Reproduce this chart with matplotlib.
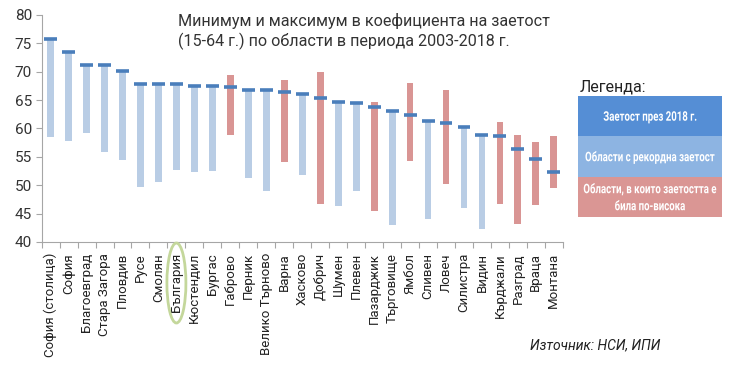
import matplotlib
matplotlib.use("Agg")
import matplotlib.pyplot as plt
from matplotlib.patches import Ellipse, Rectangle, PathPatch
from matplotlib.textpath import TextPath
from matplotlib.font_manager import FontProperties
from matplotlib.transforms import Affine2D, IdentityTransform

plt.rcParams['font.family'] = ['Roboto', 'DejaVu Sans']

regions = ["София (столица)", "София", "Благоевград", "Стара Загора", "Пловдив",
           "Русе", "Смолян", "България", "Кюстендил", "Бургас", "Габрово", "Перник",
           "Велико Търново", "Варна", "Хасково", "Добрич", "Шумен", "Плевен",
           "Пазарджик", "Търговище", "Ямбол", "Сливен", "Ловеч", "Силистра", "Видин",
           "Кърджали", "Разград", "Враца", "Монтана"]
min_vals = [58.5, 57.7, 59.2, 55.9, 54.4, 49.6, 50.5, 52.6, 52.3, 52.5, 58.9, 51.2,
            48.9, 54.0, 51.8, 46.7, 46.4, 49.0, 45.5, 42.9, 54.3, 44.0, 50.2, 46.0,
            42.3, 46.7, 43.2, 46.5, 49.5]
max_vals = [75.7, 73.4, 71.1, 71.1, 70.1, 67.8, 67.8, 67.8, 67.5, 67.4, 69.4, 66.8,
            66.7, 68.5, 66.1, 69.9, 64.7, 64.5, 64.6, 63.1, 68.0, 61.3, 66.8, 60.3,
            58.9, 61.1, 58.9, 57.6, 58.7]
val_2018 = [75.7, 73.4, 71.1, 71.1, 70.1, 67.8, 67.8, 67.8, 67.5, 67.4, 67.3, 66.8,
            66.7, 66.4, 66.1, 65.4, 64.7, 64.5, 63.8, 63.1, 62.4, 61.3, 61.0, 60.3,
            58.9, 58.7, 56.3, 54.6, 52.3]
yticks = [40, 45, 50, 55, 60, 65, 70, 75, 80]

LIGHT_BLUE = "#b9cde5"
RED = "#d99594"
LINE_BLUE = "#4a7ebb"

W, H, DPI = 730, 384, 100
fig = plt.figure(figsize=(W / DPI, H / DPI), dpi=DPI)
ax = fig.add_axes([0.057, 0.370, 0.714, 0.591])

x = list(range(len(regions)))
colors = [LIGHT_BLUE if abs(m - v) < 1e-9 else RED for m, v in zip(max_vals, val_2018)]
heights = [mx - mn for mx, mn in zip(max_vals, min_vals)]
ax.bar(x, heights, bottom=min_vals, width=0.38, color=colors, zorder=2)
ax.hlines(val_2018, [i - 0.36 for i in x], [i + 0.36 for i in x],
          color=LINE_BLUE, linewidth=2.6, zorder=3)

ax.set_xlim(-0.5, len(regions) - 0.5)
ax.set_ylim(40, 80)
ax.set_yticks(yticks)
ax.set_yticklabels([str(t) for t in yticks], fontsize=11, color="#333333")
ax.set_xticks(x)
ax.set_xticklabels(regions, rotation=90, fontsize=9.5, color="#222222")
ax.set_xticks([i - 0.5 for i in range(len(regions) + 1)], minor=True)
ax.tick_params(axis='x', which='major', length=0, pad=8)
ax.tick_params(axis='x', which='minor', length=4, color="#a6a6a6", width=0.8)
ax.tick_params(axis='y', length=4, color="#a6a6a6", width=0.8, pad=3)
for s in ["top", "right"]:
    ax.spines[s].set_visible(False)
for s in ["left", "bottom"]:
    ax.spines[s].set_color("#a6a6a6")
    ax.spines[s].set_linewidth(0.8)

# Title
fig.text(178 / W, 1 - 13 / H,
         "Минимум и максимум в коефициента на заетост\n(15-64 г.) по области в периода 2003-2018 г.",
         fontsize=11.6, color="#333333", va="top", ha="left", linespacing=1.25)

# Green ellipse around България
bg_idx = regions.index("България")
xd = ax.transData.transform((bg_idx, 40))[0]
xf = xd / fig.bbox.width
ell = Ellipse((xf, 1 - 283 / H), 19 / W, 80 / H, transform=fig.transFigure,
              fill=False, edgecolor="#c4d79b", linewidth=2, zorder=5)
fig.add_artist(ell)


def condensed_text(cx_px, cy_px_top, txt, size_pt=9.5, squeeze=0.73, color="white"):
    """Draw horizontally condensed text centred at (cx_px, cy_px_top), pixels from top."""
    prop = FontProperties(family="Roboto", weight="bold")
    tp = TextPath((0, 0), txt, size=size_pt, prop=prop)
    ext = tp.get_extents()
    scale = DPI / 72.0
    ref = TextPath((0, 0), "З", size=size_pt, prop=prop).get_extents()
    tx = -(ext.x0 + ext.x1) / 2
    ty = -(ref.y0 + ref.y1) / 2
    tr = (Affine2D().translate(tx, ty).scale(squeeze * scale, scale)
          .translate(cx_px, H - cy_px_top))
    patch = PathPatch(tr.transform_path(tp), facecolor=color, edgecolor="none")
    patch.set_transform(IdentityTransform())
    fig.add_artist(patch)


# Legend
fig.text(580 / W, 1 - 87 / H, "Легенда:", fontsize=11.5, color="#222222",
         ha="left", va="center")
lx0, lx1 = 578, 722
rows = [(96, 136, "#558ed5", ["Заетост през 2018 г."]),
        (136, 177, "#8db4e2", ["Области с рекордна заетост"]),
        (177, 217, "#da9694", ["Области, в които заетостта е", "била по-висока"])]
for top, bot, col, lines in rows:
    fig.add_artist(Rectangle((lx0 / W, 1 - bot / H), (lx1 - lx0) / W, (bot - top) / H,
                             transform=fig.transFigure, facecolor=col,
                             edgecolor="none"))
    mid = (top + bot) / 2
    n = len(lines)
    gap = 17
    for k, line in enumerate(lines):
        cy = mid + (k - (n - 1) / 2) * gap
        condensed_text((lx0 + lx1) / 2, cy, line)

# Source
fig.text(530 / W, 1 - 345 / H, "Източник: НСИ, ИПИ", fontsize=10,
         style="italic", color="#222222", ha="left", va="center")

fig.savefig("out.png", dpi=DPI)
